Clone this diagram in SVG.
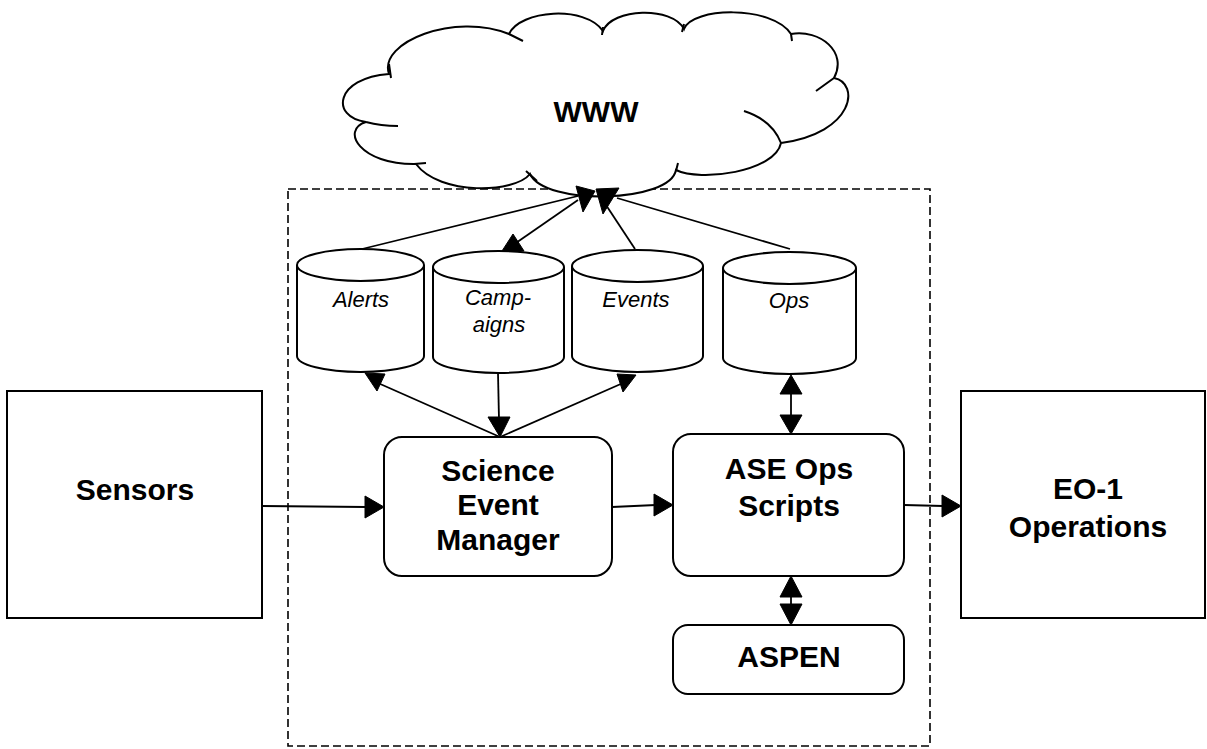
<svg xmlns="http://www.w3.org/2000/svg" width="1207" height="749" viewBox="0 0 1207 749">
<style>
  .box{fill:#fff;stroke:#000;stroke-width:2}
  .ln{fill:none;stroke:#000;stroke-width:1.8}
  .ah{fill:#000;stroke:#000;stroke-width:1;stroke-linejoin:round}
  .dash{fill:none;stroke:#000;stroke-width:1.6;stroke-dasharray:8 4}
  .tick{fill:none;stroke:#000;stroke-width:2}
  .b{font-family:"Liberation Sans",Arial,Helvetica,sans-serif;font-weight:bold;font-size:30px;text-anchor:middle;fill:#000}
  .i{font-family:"Liberation Sans",Arial,Helvetica,sans-serif;font-style:italic;font-size:22px;text-anchor:middle;fill:#000}
</style>
<rect width="1207" height="749" fill="#fff"/>
<g id="boundary">
  <rect class="dash" x="288" y="189" width="642" height="557"/>
</g>
<g id="www">
  <path class="box" d="M389,74 C378,42 455,12 509,34 C520,10 585,5 603,31 C612,8 672,6 684,29 C692,7 772,5 791,34 C820,29 848,52 834,78 C860,83 855,133 781,143 C775,172 700,182 676,170 C670,203 545,206 530,174 C515,193 440,196 416,164 C360,165 340,130 366,122 C330,117 335,78 389,74 Z"/>
  <path class="tick" d="M389,64 L391,78 M366,122 Q381,126 398,126 M414,164 L426,163 M526,171 L537,181 M678,163 L676,171 M744,111 Q772,120 781,143 M816,91 L834,78 M791,34 L792,41 M684,24 L682,32 M603,27 L602,35 M509,34 L523,41"/>
  <text class="b" x="596" y="122">WWW</text>
</g>
<g id="alerts">
  <path class="box" d="M297,265 A63.5,16 0 0 1 424,265 V356 A63.5,16 0 0 1 297,356 Z"/>
  <path class="ln" style="stroke-width:2" d="M297,265 A63.5,16 0 0 0 424,265"/>
  <text class="i" x="361" y="307">Alerts</text>
</g>
<g id="campaigns">
  <path class="box" d="M433,267 A65.5,16 0 0 1 564,267 V357 A65.5,16 0 0 1 433,357 Z"/>
  <path class="ln" style="stroke-width:2" d="M433,267 A65.5,16 0 0 0 564,267"/>
  <text class="i" x="498" y="305">Camp-</text>
  <text class="i" x="499" y="332">aigns</text>
</g>
<g id="events">
  <path class="box" d="M572,266 A65.5,16 0 0 1 703,266 V356 A65.5,16 0 0 1 572,356 Z"/>
  <path class="ln" style="stroke-width:2" d="M572,266 A65.5,16 0 0 0 703,266"/>
  <text class="i" x="636" y="307">Events</text>
</g>
<g id="ops">
  <path class="box" d="M723,268 A66.5,16 0 0 1 856,268 V358 A66.5,16 0 0 1 723,358 Z"/>
  <path class="ln" style="stroke-width:2" d="M723,268 A66.5,16 0 0 0 856,268"/>
  <text class="i" x="789" y="308">Ops</text>
</g>
<g id="sensors">
  <rect class="box" x="7" y="391" width="255" height="227"/>
  <text class="b" x="135" y="500">Sensors</text>
</g>
<g id="sem">
  <rect class="box" x="384" y="437" width="228" height="139" rx="18"/>
  <text class="b" x="498" y="481">Science</text>
  <text class="b" x="498" y="515">Event</text>
  <text class="b" x="498" y="550">Manager</text>
</g>
<g id="ase">
  <rect class="box" x="673" y="434" width="231" height="142" rx="18"/>
  <text class="b" x="789" y="479">ASE Ops</text>
  <text class="b" x="789" y="516">Scripts</text>
</g>
<g id="aspen">
  <rect class="box" x="673" y="625" width="231" height="69" rx="15"/>
  <text class="b" x="789" y="667">ASPEN</text>
</g>
<g id="eo1">
  <rect class="box" x="961" y="391" width="244" height="227"/>
  <text class="b" x="1088" y="499">EO-1</text>
  <text class="b" x="1088" y="537">Operations</text>
</g>
<g id="connectors">
  <path class="ln" d="M362,249 L578,196"/>
  <path class="ln" d="M578,200 L513,245"/>
  <path class="ln" d="M635,249 L606,205"/>
  <path class="ln" d="M790,249 L617,198"/>
  <path class="ln" d="M500,437 L378,383"/>
  <path class="ln" d="M498,373 L499,420"/>
  <path class="ln" d="M500,437 L623,383"/>
  <path class="ln" d="M791,392 L791,416"/>
  <path class="ln" d="M791,595 L791,606"/>
  <path class="ln" d="M262,506 L366,507"/>
  <path class="ln" d="M612,507 L656,505"/>
  <path class="ln" d="M904,505 L943,506"/>
  <polygon class="ah" points="576,186 595,191 583,212"/>
  <polygon class="ah" points="596,189 619,188 603,214"/>
  <polygon class="ah" points="513,234 502,251 524,251"/>
  <polygon class="ah" points="365,373 385,374 377,391"/>
  <polygon class="ah" points="488,417 510,417 500,437"/>
  <polygon class="ah" points="617,374 636,375 623,392"/>
  <polygon class="ah" points="791,375 780,394 802,394"/>
  <polygon class="ah" points="780,415 802,415 791,434"/>
  <polygon class="ah" points="791,576 780,597 802,597"/>
  <polygon class="ah" points="780,604 802,604 791,625"/>
  <polygon class="ah" points="365,496 365,518 384,507"/>
  <polygon class="ah" points="654,494 654,516 673,505"/>
  <polygon class="ah" points="942,495 942,517 961,506"/>
</g>
</svg>
